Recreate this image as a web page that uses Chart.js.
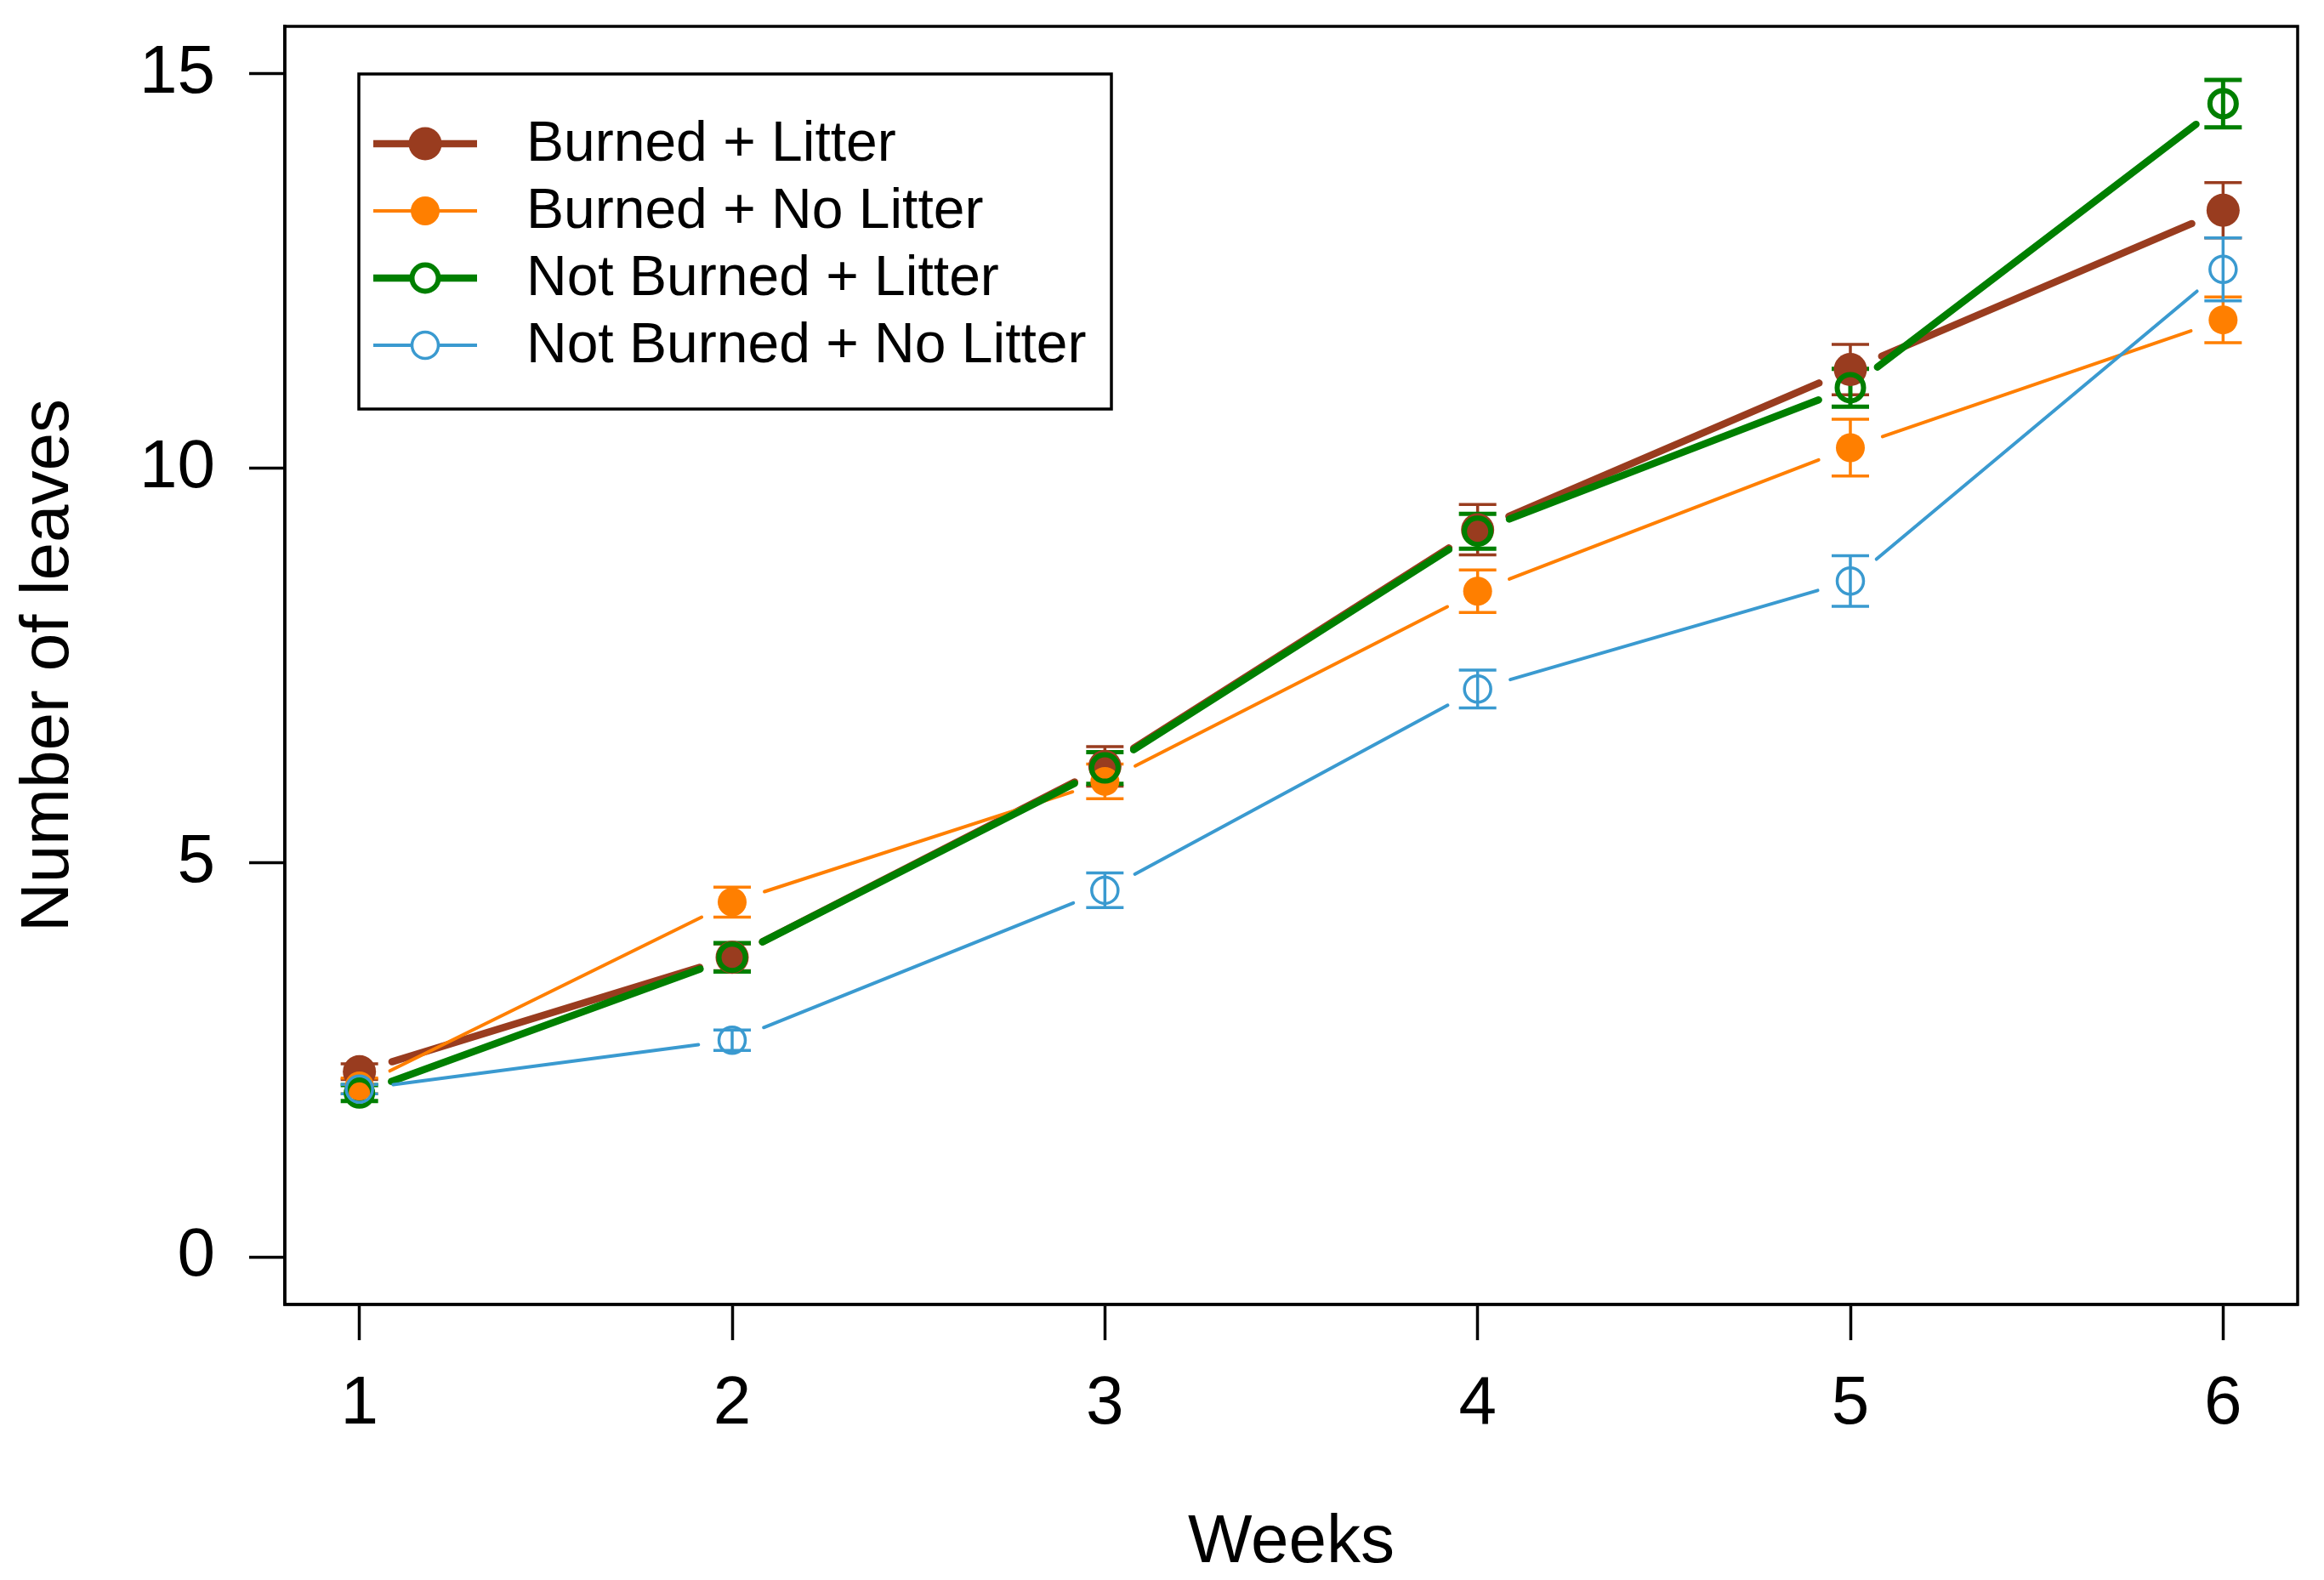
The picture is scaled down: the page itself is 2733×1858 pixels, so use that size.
<!DOCTYPE html>
<html><head><meta charset="utf-8">
<script src="https://cdn.jsdelivr.net/npm/chart.js@4/dist/chart.umd.min.js"></script>
<style>html,body{margin:0;padding:0;background:#fff}#wrap{width:2733px;height:1858px;position:relative}</style>
</head><body><div id="wrap"><canvas id="c"></canvas></div>
<script>
// ---- data ----
const weeks = [1, 2, 3, 4, 5, 6];
const xTicks = [1, 2, 3, 4, 5, 6];
const yTicks = [0, 5, 10, 15];
const seriesNames = ["Burned + Litter", "Burned + No Litter", "Not Burned + Litter", "Not Burned + No Litter"];
const burnedLitter        = [2.35, 3.80, 6.22, 9.22, 11.25, 13.27];
const burnedLitterSE      = [0.10, 0.17, 0.25, 0.32, 0.32, 0.35];
const burnedNoLitter      = [2.17, 4.50, 6.03, 8.44, 10.26, 11.88];
const burnedNoLitterSE    = [0.10, 0.19, 0.22, 0.27, 0.36, 0.29];
const notBurnedLitter     = [2.08, 3.80, 6.20, 9.20, 11.02, 14.62];
const notBurnedLitterSE   = [0.10, 0.18, 0.20, 0.22, 0.24, 0.30];
const notBurnedNoLitter   = [2.13, 2.75, 4.65, 7.20, 8.57, 12.52];
const notBurnedNoLitterSE = [0.06, 0.13, 0.22, 0.24, 0.32, 0.40];
const xTitle = "Weeks";
const yTitle = "Number of leaves";

// ---- styles ----
const FONT = "'Liberation Sans', Arial, Helvetica, sans-serif";
const styles = [
  {color: '#993C1F', lw: 8.5, filled: true,  r: 19.5, bw: 0,   ebw: 3.5},
  {color: '#FF7F00', lw: 4,   filled: true,  r: 17,   bw: 0,   ebw: 3.5},
  {color: '#007F00', lw: 8.5, filled: false, r: 15.5, bw: 6,   ebw: 5},
  {color: '#3A9AD0', lw: 4,   filled: false, r: 15.5, bw: 3.5, ebw: 3.5}
];
const GAP = 40, CAP = 22;

const seriesValues = [burnedLitter, burnedNoLitter, notBurnedLitter, notBurnedNoLitter];
const seriesSE = [burnedLitterSE, burnedNoLitterSE, notBurnedLitterSE, notBurnedNoLitterSE];

const datasets = seriesNames.map((name, i) => ({
  label: name,
  data: weeks.map((w, j) => ({x: w, y: seriesValues[i][j]})),
  se: seriesSE[i],
  showLine: false,
  order: 4 - i,
  pointRadius: styles[i].r,
  pointHoverRadius: styles[i].r,
  pointBackgroundColor: styles[i].filled ? styles[i].color : 'rgba(0,0,0,0)',
  pointBorderColor: styles[i].color,
  pointBorderWidth: styles[i].bw,
  borderColor: styles[i].color,
  backgroundColor: styles[i].color
}));

const seriesPlugin = {
  id: 'series',
  beforeDatasetsDraw(chart) {
    const {ctx, scales: {x, y}} = chart;
    ctx.save();
    chart.data.datasets.forEach((ds, i) => {
      const st = styles[i];
      const pts = ds.data.map(d => [x.getPixelForValue(d.x), y.getPixelForValue(d.y)]);
      ctx.strokeStyle = st.color;
      ctx.lineWidth = st.lw;
      ctx.lineCap = 'round';
      for (let k = 0; k < pts.length - 1; k++) {
        const [x0, y0] = pts[k], [x1, y1] = pts[k + 1];
        const dx = x1 - x0, dy = y1 - y0, L = Math.hypot(dx, dy);
        if (L <= 2 * GAP) continue;
        const ux = dx / L, uy = dy / L;
        ctx.beginPath();
        ctx.moveTo(x0 + ux * GAP, y0 + uy * GAP);
        ctx.lineTo(x1 - ux * GAP, y1 - uy * GAP);
        ctx.stroke();
      }
      ctx.lineWidth = st.ebw;
      ctx.lineCap = 'butt';
      ds.data.forEach((d, j) => {
        const px = x.getPixelForValue(d.x);
        const top = y.getPixelForValue(d.y + ds.se[j]);
        const bot = y.getPixelForValue(d.y - ds.se[j]);
        ctx.beginPath();
        ctx.moveTo(px, top); ctx.lineTo(px, bot);
        ctx.moveTo(px - CAP, top); ctx.lineTo(px + CAP, top);
        ctx.moveTo(px - CAP, bot); ctx.lineTo(px + CAP, bot);
        ctx.stroke();
      });
    });
    ctx.restore();
  }
};

const boxLegendPlugin = {
  id: 'boxLegend',
  afterDraw(chart) {
    const {ctx, chartArea: a} = chart;
    ctx.save();
    ctx.strokeStyle = '#000';
    ctx.lineWidth = 3.5;
    ctx.strokeRect(a.left, a.top, a.right - a.left, a.bottom - a.top);
    // legend
    const L = {left: 422, top: 87, right: 1307, bottom: 481};
    ctx.lineWidth = 3.5;
    ctx.strokeRect(L.left, L.top, L.right - L.left, L.bottom - L.top);
    const rowY = [169, 248, 327, 406];
    ctx.font = '66px ' + FONT;
    ctx.textBaseline = 'middle';
    ctx.textAlign = 'left';
    chart.data.datasets.forEach((ds, i) => {
      const st = styles[i], yy = rowY[i];
      ctx.strokeStyle = st.color;
      ctx.lineWidth = st.lw;
      ctx.lineCap = 'butt';
      ctx.beginPath(); ctx.moveTo(439, yy); ctx.lineTo(561, yy); ctx.stroke();
      ctx.beginPath(); ctx.arc(500, yy, st.r, 0, Math.PI * 2);
      if (st.filled) { ctx.fillStyle = st.color; ctx.fill(); }
      else { ctx.fillStyle = '#fff'; ctx.fill(); ctx.lineWidth = st.bw; ctx.stroke(); }
      ctx.fillStyle = '#000';
      ctx.fillText(ds.label, 619, yy + 2);
    });
    ctx.restore();
  }
};

Chart.defaults.font.family = FONT;
Chart.defaults.color = '#000';

new Chart(document.getElementById('c'), {
  type: 'line',
  data: {datasets},
  options: {
    responsive: true,
    maintainAspectRatio: false,
    devicePixelRatio: 1,
    animation: false,
    events: [],
    layout: {padding: {top: 31, right: 31, left: 0, bottom: 0}},
    plugins: {legend: {display: false}, tooltip: {enabled: false}},
    scales: {
      x: {
        type: 'linear', min: 0.8, max: 6.2,
        afterBuildTicks: s => { s.ticks = xTicks.map(v => ({value: v})); },
        afterFit: s => { s.height = 324; s.paddingLeft = 0; s.paddingRight = 0; },
        grid: {drawOnChartArea: false, drawTicks: true, tickLength: 42, tickWidth: 3.5, color: '#000'},
        border: {display: true, color: '#000', width: 3.5},
        ticks: {font: {size: 80}, padding: 28, maxRotation: 0, autoSkip: false, color: '#000',
                callback: v => String(v)},
        title: {display: true, text: xTitle, font: {size: 80, lineHeight: 1.075}, padding: {top: 0, bottom: 0}, color: '#000'}
      },
      y: {
        type: 'linear', min: -0.6, max: 15.6,
        afterBuildTicks: s => { s.ticks = yTicks.map(v => ({value: v})); },
        afterFit: s => { s.width = 335; s.paddingTop = 0; s.paddingBottom = 0; },
        grid: {drawOnChartArea: false, drawTicks: true, tickLength: 42, tickWidth: 3.5, color: '#000'},
        border: {display: true, color: '#000', width: 3.5},
        ticks: {font: {size: 80}, padding: 40, autoSkip: false, color: '#000',
                callback: v => String(v)},
        title: {display: true, text: yTitle, font: {size: 80}, padding: {top: 10, bottom: 0}, color: '#000'}
      }
    }
  },
  plugins: [seriesPlugin, boxLegendPlugin]
});
</script>
</body></html>
